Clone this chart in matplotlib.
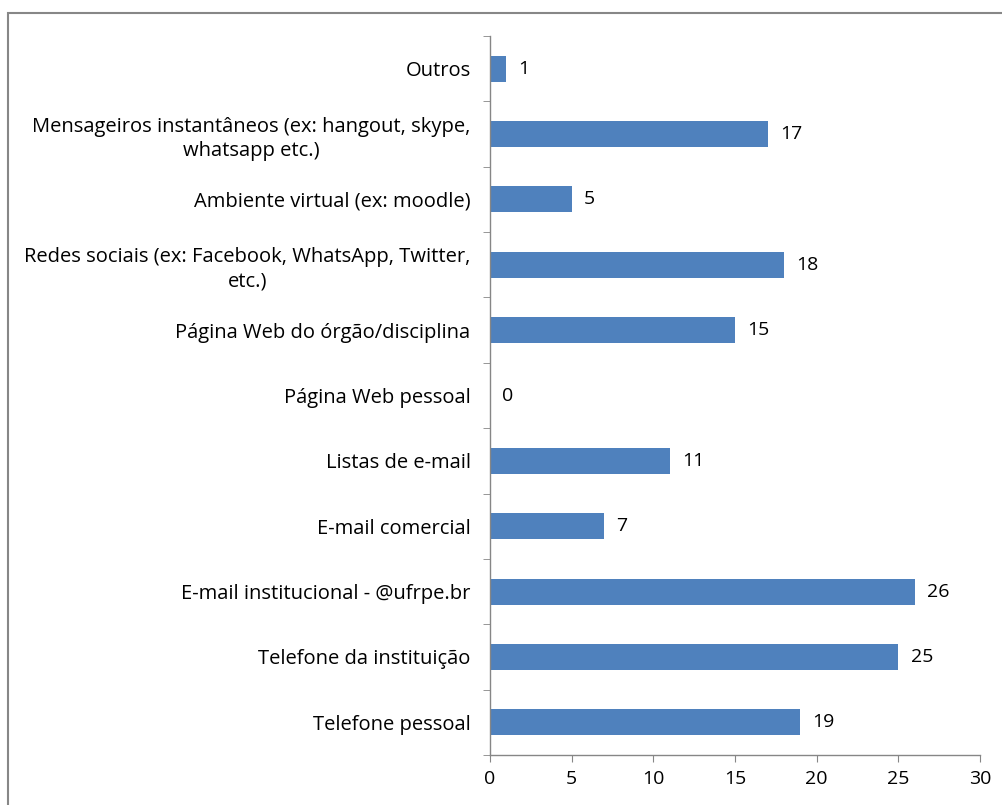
import numpy as np
import matplotlib.pyplot as plt
from matplotlib.patches import Rectangle

plt.rcParams['font.family'] = ['Open Sans', 'DejaVu Sans']

# categories listed from bottom to top
categories = [
    "Telefone pessoal",
    "Telefone da instituição",
    "E-mail institucional - @ufrpe.br",
    "E-mail comercial",
    "Listas de e-mail",
    "Página Web pessoal",
    "Página Web do órgão/disciplina",
    "Redes sociais (ex: Facebook, WhatsApp, Twitter,\netc.)",
    "Ambiente virtual (ex: moodle)",
    "Mensageiros instantâneos (ex: hangout, skype,\nwhatsapp etc.)",
    "Outros",
]
counts = [19, 25, 26, 7, 11, 0, 15, 18, 5, 17, 1]
xticks = [0, 5, 10, 15, 20, 25, 30]

fig = plt.figure(figsize=(10.03, 8.05), dpi=100)
ax = fig.add_axes([490 / 1003, 1 - 755 / 805, (980 - 490) / 1003, (755 - 36) / 805])

y = np.arange(len(categories))
ax.barh(y, counts, height=0.4, color='#4F81BD')
for yi, v in zip(y, counts):
    ax.text(v + 0.75, yi, str(v), va='center', ha='left', fontsize=14, color='black')

ax.set_ylim(-0.5, len(categories) - 0.5)
ax.set_xlim(0, 30)
ax.set_xticks(xticks)
ax.set_yticks(y)
ax.set_yticklabels(categories, multialignment='center', linespacing=1.3)
ax.set_yticks(np.arange(-0.5, len(categories), 1), minor=True)

ax.tick_params(axis='y', which='major', length=0, pad=14, labelsize=14.5)
ax.tick_params(axis='y', which='minor', length=5, color='#868686', direction='out')
ax.tick_params(axis='x', length=5, color='#868686', pad=6, labelsize=14)

for s in ['top', 'right']:
    ax.spines[s].set_visible(False)
for s in ['left', 'bottom']:
    ax.spines[s].set_color('#868686')
    ax.spines[s].set_linewidth(1)

# outer chart border
fig.patches.append(Rectangle((8 / 1003, -0.1), 1.2, 1 - 13 / 805 + 0.1,
                             transform=fig.transFigure, fill=False,
                             edgecolor='#878787', linewidth=1.5))

fig.savefig('out.png', dpi=100)
